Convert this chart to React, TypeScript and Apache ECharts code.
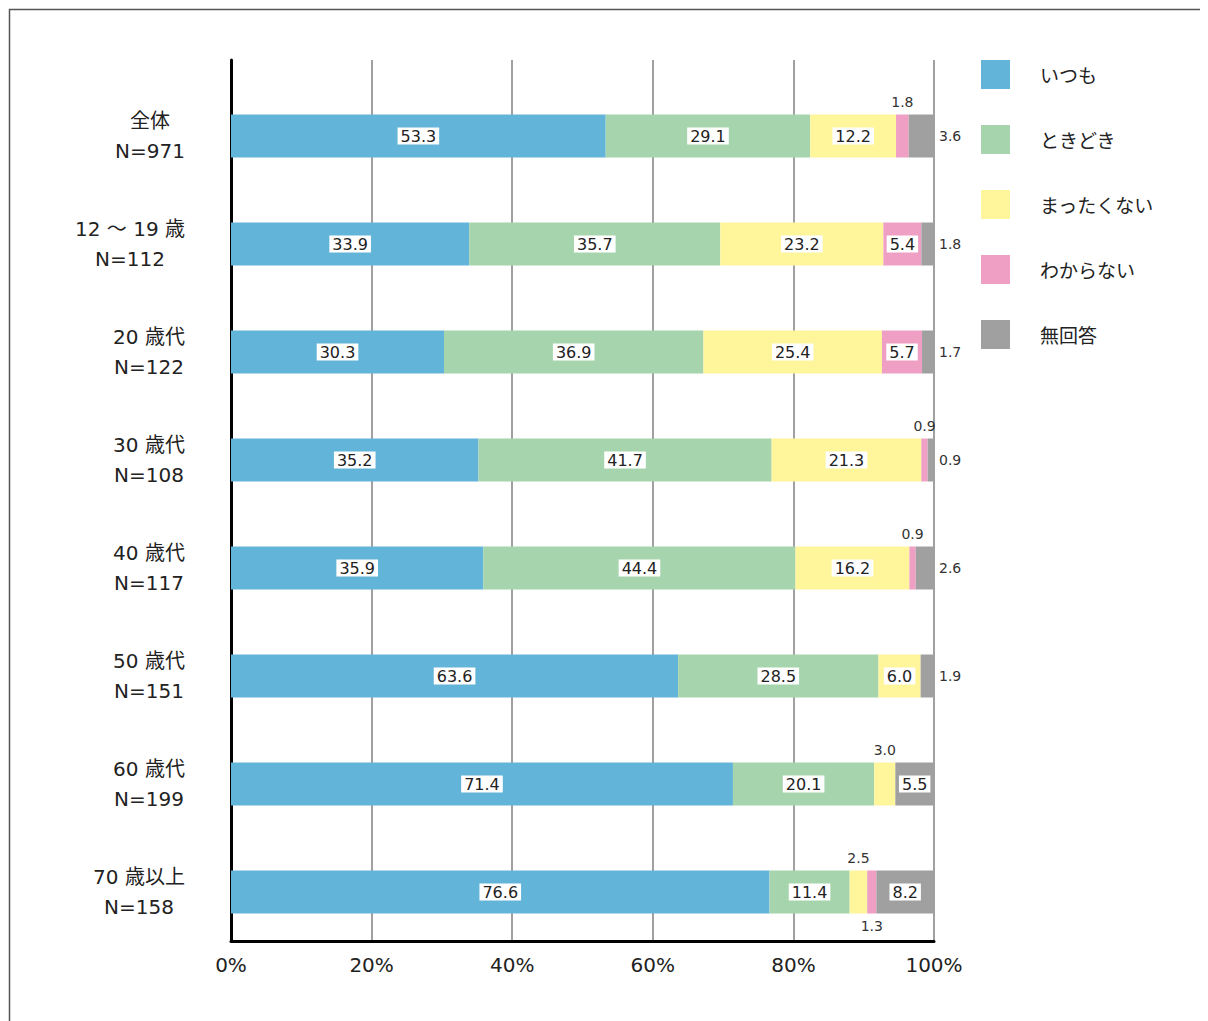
import React, { useEffect, useRef } from "react";
import * as echarts from "echarts";

const categories = [
  "全体\nN=971",
  "12 ～ 19 歳\nN=112",
  "20 歳代\nN=122",
  "30 歳代\nN=108",
  "40 歳代\nN=117",
  "50 歳代\nN=151",
  "60 歳代\nN=199",
  "70 歳以上\nN=158",
];

const seriesNames = ["いつも", "ときどき", "まったくない", "わからない", "無回答"];

const itsumo = [53.3, 33.9, 30.3, 35.2, 35.9, 63.6, 71.4, 76.6];
const tokidoki = [29.1, 35.7, 36.9, 41.7, 44.4, 28.5, 20.1, 11.4];
const mattakunai = [12.2, 23.2, 25.4, 21.3, 16.2, 6.0, 3.0, 2.5];
const wakaranai = [1.8, 5.4, 5.7, 0.9, 0.9, 0, 0, 1.3];
const mukaitou = [3.6, 1.8, 1.7, 0.9, 2.6, 1.9, 5.5, 8.2];

const xTicks = [0, 20, 40, 60, 80, 100];

// label placement: i = inside box, t = top, r = right, b = bottom, "" = none
const placements = [
  ["i", "i", "i", "i", "i", "i", "i", "i"],
  ["i", "i", "i", "i", "i", "i", "i", "i"],
  ["i", "i", "i", "i", "i", "i", "t", "t"],
  ["t", "i", "i", "t", "t", "", "", "b"],
  ["r", "r", "r", "r", "r", "r", "i", "i"],
];

const colors = ["#62b4d8", "#a6d4ad", "#fff59b", "#ef9fc3", "#a0a0a0"];

const FONT = "'DejaVu Sans', 'Noto Sans CJK JP', sans-serif";
const CAT_FONT_SIZE = 20;

function buildData(values: number[], place: string[]) {
  return values.map((v, i) => {
    const p = place[i];
    if (p === "i") {
      return {
        value: v,
        label: {
          show: true,
          position: "inside",
          backgroundColor: "#ffffff",
          color: "#222",
          fontSize: 16,
          fontFamily: FONT,
          padding: [1, 3, 0, 3],
          formatter: (d: any) => d.value.toFixed(1),
        },
      };
    }
    if (p === "") return { value: v, label: { show: false } };
    const pos = p === "t" ? "top" : p === "r" ? "right" : "bottom";
    return {
      value: v,
      label: {
        show: true,
        position: pos,
        distance: p === "t" ? 6 : 5,
        color: "#333",
        fontSize: 14,
        fontFamily: FONT,
        formatter: (d: any) => d.value.toFixed(1),
      },
    };
  });
}

function blockWidth(text: string): number {
  const c = document.createElement("canvas");
  const ctx = c.getContext("2d");
  if (!ctx) return 80;
  ctx.font = CAT_FONT_SIZE + "px " + FONT;
  return Math.ceil(Math.max(...text.split("\n").map((l) => ctx.measureText(l).width)));
}

export default function App() {
  const ref = useRef<HTMLDivElement>(null);
  useEffect(() => {
    if (!ref.current) return;
    const chart = echarts.init(ref.current, null, { renderer: "svg" });
    const allValues = [itsumo, tokidoki, mattakunai, wakaranai, mukaitou];
    const rich: any = {};
    categories.forEach((c, i) => {
      rich["c" + i] = {
        width: blockWidth(c),
        align: "center",
        fontSize: CAT_FONT_SIZE,
        lineHeight: 30,
        color: "#222",
        fontFamily: FONT,
      };
    });
    const option: any = {
      animation: false,
      backgroundColor: "#ffffff",
      textStyle: { fontFamily: FONT },
      graphic: [
        {
          type: "rect",
          shape: { x: 1.5, y: 1.5, width: 1300, height: 1100 },
          style: { fill: "none", stroke: "#555", lineWidth: 1.5 },
          silent: true,
          z: -10,
        },
      ],
      legend: {
        orient: "vertical",
        left: 968,
        top: 47,
        itemWidth: 29,
        itemHeight: 29,
        itemGap: 36,
        icon: "rect",
        data: seriesNames,
        textStyle: {
          fontSize: 19,
          color: "#222",
          fontFamily: "'Noto Sans CJK JP', sans-serif",
          padding: [0, 0, 2, 25],
        },
      },
      grid: [
        { left: 223, top: 52, width: 703, height: 881, outerBoundsMode: "none", containLabel: false },
        { left: 223, top: 74, width: 703, height: 864, outerBoundsMode: "none", containLabel: false },
      ],
      xAxis: [
        {
          gridIndex: 0,
          type: "value",
          min: 0,
          max: 100,
          interval: 20,
          axisLine: { show: true, lineStyle: { color: "#000", width: 3 } },
          axisTick: { show: false },
          splitLine: { show: true, lineStyle: { color: "#a0a0a0", width: 2 } },
          axisLabel: {
            margin: 14,
            fontSize: 20,
            color: "#222",
            fontFamily: FONT,
            formatter: (v: number) => (xTicks.includes(v) ? v + "%" : ""),
          },
        },
        {
          gridIndex: 1,
          type: "value",
          min: 0,
          max: 100,
          show: false,
          splitLine: { show: false },
        },
      ],
      yAxis: [
        {
          gridIndex: 0,
          type: "value",
          min: 0,
          max: 1,
          axisLine: { show: true, onZero: false, lineStyle: { color: "#000", width: 3 } },
          axisTick: { show: false },
          axisLabel: { show: false },
          splitLine: { show: false },
        },
        {
          gridIndex: 1,
          type: "category",
          inverse: true,
          data: categories,
          axisLine: { show: false },
          axisTick: { show: false },
          splitLine: { show: false },
          axisLabel: {
            align: "right",
            margin: 46,
            fontSize: CAT_FONT_SIZE,
            lineHeight: 30,
            color: "#222",
            fontFamily: FONT,
            rich,
            formatter: (v: string, idx: number) =>
              v
                .split("\n")
                .map((l) => "{c" + idx + "|" + l + "}")
                .join("\n"),
          },
        },
      ],
      series: seriesNames.map((name, si) => ({
        name,
        type: "bar",
        stack: "total",
        xAxisIndex: 1,
        yAxisIndex: 1,
        barWidth: 43,
        itemStyle: { color: colors[si] },
        emphasis: { disabled: true },
        data: buildData(allValues[si], placements[si]),
      })),
    };
    chart.setOption(option);
    return () => chart.dispose();
  }, []);
  return <div ref={ref} style={{ width: 1200, height: 1013 }} />;
}
